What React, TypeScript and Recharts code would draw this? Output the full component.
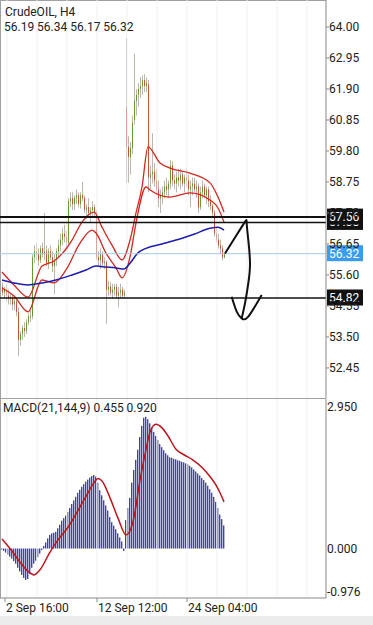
import React from 'react';
import { ComposedChart, Bar, Line, Scatter, XAxis, YAxis, ReferenceLine } from 'recharts';

// H4 candles, one entry per bar
const OPEN = [
  55.2, 55.0, 55.1, 54.9, 54.8, 54.85, 54.6, 54.7, 54.35, 53.4,
  53.6, 53.8, 53.7, 54.0, 54.2, 54.2, 56.2, 56.4, 56.3, 56.1,
  56.5, 56.3, 56.4, 56.0, 56.4, 56.2, 55.9, 56.1, 56.4, 56.6,
  56.8, 57.0, 56.9, 56.7, 58.1, 58.2, 58.0, 58.2, 58.3, 58.0,
  58.3, 58.2, 57.8, 57.9, 57.7, 57.8, 57.9, 57.7, 56.2, 56.1,
  56.3, 56.0, 56.05, 55.1, 55.2, 55.0, 55.1, 55.2, 54.9, 55.0,
  55.1, 54.9, 61.29, 59.94, 59.6, 59.9, 60.85, 61.5, 61.7, 61.9,
  62.0, 62.2, 62.0, 62.05, 58.9, 59.0, 59.1, 58.8, 58.5, 58.2,
  58.3, 58.4, 58.6, 58.5, 58.7, 59.3, 58.8, 58.7, 58.9, 58.8,
  59.0, 58.7, 58.9, 58.8, 58.5, 58.6, 58.7, 58.5, 58.6, 57.9,
  58.4, 58.6, 58.3, 58.5, 58.1, 57.95, 57.7, 57.0, 56.8, 56.6,
  56.5, 56.19,
];
const HIGH = [
  55.35, 55.2, 55.3, 55.1, 55.0, 54.95, 54.9, 54.8, 54.5, 53.7,
  53.9, 54.0, 54.1, 54.3, 54.5, 56.3, 56.6, 56.7, 56.5, 56.6,
  56.7, 57.7, 56.6, 56.5, 56.6, 56.4, 56.3, 56.5, 56.8, 57.0,
  57.2, 57.3, 57.1, 58.2, 58.4, 58.4, 58.3, 58.5, 58.4, 58.4,
  58.75, 58.3, 58.0, 58.2, 57.9, 58.1, 58.0, 57.8, 56.4, 56.5,
  56.4, 56.2, 56.1, 55.4, 55.35, 55.3, 55.3, 55.3, 55.2, 55.3,
  55.2, 55.1, 63.62, 60.3, 60.1, 61.0, 63.1, 61.9, 62.1, 62.3,
  62.35, 62.4, 62.3, 62.2, 59.3, 60.4, 59.4, 59.2, 58.8, 58.5,
  58.6, 58.8, 58.9, 58.8, 59.5, 59.45, 59.0, 59.1, 59.2, 59.2,
  59.1, 59.0, 59.2, 59.0, 58.8, 58.9, 58.9, 58.8, 58.7, 58.6,
  58.8, 58.7, 58.6, 58.6, 58.3, 58.0, 57.8, 57.2, 57.0, 56.8,
  56.6, 56.34,
];
const LOW = [
  54.9, 54.8, 54.7, 54.6, 54.6, 54.4, 54.4, 54.2, 52.85, 53.2,
  53.4, 53.5, 53.6, 53.9, 54.0, 54.1, 56.0, 56.1, 55.9, 56.0,
  56.2, 56.1, 55.9, 55.8, 56.1, 55.7, 54.95, 55.9, 56.2, 56.4,
  56.6, 56.7, 56.5, 56.6, 57.9, 57.8, 57.8, 58.0, 57.9, 57.85,
  58.1, 57.7, 57.5, 57.6, 57.4, 57.6, 57.6, 56.1, 55.9, 55.8,
  55.9, 55.8, 53.95, 54.9, 54.9, 54.8, 54.9, 54.8, 54.5, 54.8,
  54.8, 54.8, 58.72, 58.72, 59.0, 59.7, 60.7, 61.0, 61.3, 61.6,
  61.7, 61.8, 61.8, 58.4, 58.5, 58.7, 58.6, 58.3, 57.9, 57.7,
  58.0, 58.2, 58.3, 58.2, 58.5, 58.6, 58.5, 58.4, 58.6, 58.5,
  58.6, 58.4, 58.6, 58.3, 57.9, 58.3, 58.4, 58.2, 57.7, 57.8,
  58.2, 58.2, 58.0, 57.9, 57.8, 57.6, 56.9, 56.7, 56.5, 56.3,
  56.1, 56.17,
];
const CLOSE = [
  55.0, 55.1, 54.9, 54.8, 54.85, 54.6, 54.7, 54.35, 53.4, 53.6,
  53.8, 53.7, 54.0, 54.2, 54.2, 56.2, 56.4, 56.3, 56.1, 56.5,
  56.3, 56.4, 56.0, 56.4, 56.2, 55.9, 56.1, 56.4, 56.6, 56.8,
  57.0, 56.9, 56.7, 58.1, 58.2, 58.0, 58.2, 58.3, 58.0, 58.3,
  58.2, 57.8, 57.9, 57.7, 57.8, 57.9, 57.7, 56.2, 56.1, 56.3,
  56.0, 56.05, 55.1, 55.2, 55.0, 55.1, 55.2, 54.9, 55.0, 55.1,
  54.9, 55.0, 59.94, 59.6, 59.9, 60.75, 61.5, 61.7, 61.9, 62.0,
  62.2, 62.0, 62.1, 58.9, 59.0, 59.1, 58.8, 58.5, 58.2, 58.3,
  58.4, 58.6, 58.5, 58.7, 59.3, 58.8, 58.7, 58.9, 58.8, 59.0,
  58.7, 58.9, 58.8, 58.5, 58.6, 58.7, 58.5, 58.6, 57.9, 58.4,
  58.6, 58.3, 58.5, 58.1, 57.95, 57.7, 57.0, 56.8, 56.6, 56.5,
  56.19, 56.32,
];

// indicator lines, read at the bars listed in *_AT
const BAND_UP_AT = [0, 6, 13, 20, 26, 32, 35, 40, 46, 50, 55, 60, 64, 67, 70, 73, 79, 84, 94, 104, 108, 111];
const BAND_UP = [55.7, 55.26, 54.85, 55.9, 56.07, 56.48, 56.78, 57.39, 57.73, 57.22, 56.61, 56.11, 56.78, 57.7, 58.58, 59.94, 59.39, 59.22, 59.05, 58.72, 58.24, 57.73];
const BAND_LO_AT = [0, 6, 13, 20, 26, 32, 39, 45, 47, 52, 57, 60, 64, 67, 72, 74, 84, 94, 104, 108, 111];
const BAND_LO = [55.16, 54.89, 54.35, 55.43, 55.33, 55.77, 56.68, 57.12, 57.02, 56.34, 55.84, 55.5, 56.21, 57.36, 58.58, 58.48, 58.24, 58.38, 58.14, 57.87, 57.39];
const MA_AT = [0, 6, 13, 20, 27, 35, 42, 47, 52, 57, 61, 64, 68, 72, 80, 88, 96, 104, 108, 111];
const MA = [55.43, 55.33, 55.26, 55.33, 55.43, 55.6, 55.77, 55.9, 55.87, 55.84, 55.8, 56.0, 56.35, 56.5, 56.65, 56.8, 56.98, 57.18, 57.22, 57.12];

const MACD_HIST = [
  -0.02, -0.05, -0.08, -0.12, -0.16, -0.2, -0.25, -0.3, -0.38, -0.45,
  -0.52, -0.58, -0.62, -0.6, -0.5, -0.38, -0.3, -0.24, -0.17, -0.1,
  -0.03, 0.05, 0.12, 0.2, 0.27, 0.3, 0.31, 0.33, 0.4, 0.47,
  0.55, 0.6, 0.65, 0.72, 0.8, 0.88, 0.95, 1.02, 1.1, 1.16,
  1.22, 1.27, 1.32, 1.36, 1.4, 1.43, 1.45, 1.42, 1.3, 1.15,
  1.05, 0.95, 0.85, 0.75, 0.62, 0.52, 0.45, 0.38, 0.3, 0.22,
  0.14, -0.05, 0.56, 0.8, 1.0, 1.3, 1.55, 1.75, 1.95, 2.2,
  2.42, 2.58, 2.6, 2.55, 2.47, 2.38, 2.3, 2.22, 2.14, 2.06,
  2.0, 1.94, 1.88, 1.84, 1.8, 1.79, 1.77, 1.76, 1.74, 1.73,
  1.71, 1.7, 1.68, 1.66, 1.63, 1.6, 1.56, 1.52, 1.48, 1.44,
  1.39, 1.35, 1.3, 1.24, 1.17, 1.1, 1.02, 0.92, 0.8, 0.67,
  0.58, 0.455,
];
const SIGNAL_AT = [0, 5, 9, 13, 16, 19, 24, 28, 33, 38, 43, 46, 48, 50, 54, 58, 62, 64, 66, 69, 72, 74, 77, 80, 83, 87, 91, 95, 100, 104, 107, 109, 111];
const SIGNAL = [0.19, -0.05, -0.27, -0.45, -0.52, -0.42, -0.07, 0.17, 0.42, 0.75, 1.1, 1.3, 1.38, 1.33, 1.0, 0.6, 0.27, 0.35, 0.62, 1.35, 1.95, 2.3, 2.45, 2.38, 2.22, 1.96, 1.85, 1.76, 1.6, 1.42, 1.25, 1.1, 0.92];

const PRICE_TICKS = [64.0, 62.95, 61.9, 60.85, 59.8, 58.75, 57.7, 56.65, 55.6, 54.55, 53.5, 52.45];
const MACD_TICKS = [2.95, 0, -0.976];
const TIME_TICKS = [1.5, 47.5, 92.5];
const TIME_LABELS = ['2 Sep 16:00', '12 Sep 12:00', '24 Sep 04:00'];
const GRID_X = [2.5, 17.5, 32.5, 47.5, 62.5, 77.5, 92.5, 107.5, 122.5, 137.5, 152.5];

// horizontal levels drawn on the chart
const LEVEL_HI = 57.56;
const LEVEL_HI2 = 57.38;
const LEVEL_LO = 54.82;

// hand drawn arrow (bar index, price)
const ARROW_I = [111.5, 116.5, 121.5, 122.35, 123.15, 124, 123.15, 121.5, 119.85];
const ARROW_P = [56.33, 56.87, 57.4, 57.35, 56.78, 56.0, 55.32, 54.64, 54.13];
const HEAD_I = [114.85, 117.35, 119.85, 123.15, 129.85];
const HEAD_P = [54.86, 54.36, 54.13, 54.19, 54.92];

const AXIS_X = 326;
const FONT = 'Roboto, sans-serif';
const GREEN = '#5e9d2e';
const RED = '#c9503a';

const series = (at: number[], vals: number[]) => at.map((i, k) => ({ i, v: vals[k] }));
const upRows = series(BAND_UP_AT, BAND_UP);
const loRows = series(BAND_LO_AT, BAND_LO);
const maRows = series(MA_AT, MA);
const sigRows = series(SIGNAL_AT, SIGNAL);

const rows = CLOSE.map((c, i) => ({
  i,
  o: OPEN[i],
  h: HIGH[i],
  l: LOW[i],
  c,
  hist: MACD_HIST[i],
}));

const arrow = ARROW_I.map((i, k) => ({ i, p: ARROW_P[k] }));
const head = HEAD_I.map((i, k) => ({ i, p: HEAD_P[k] }));

const last = CLOSE.length - 1;

function Candle(props: any) {
  const { x, y, width, height, payload } = props;
  const { o, h, l, c } = payload;
  const top = Math.min(y, y + height);
  const hh = Math.abs(height);
  const ppu = hh / (h - l || 1);
  const bodyTop = top + (h - Math.max(o, c)) * ppu;
  const bodyH = Math.max(1, Math.abs(o - c) * ppu);
  const cx = Math.round(x + width / 2);
  return (
    <g>
      <rect x={cx} y={top} width={1} height={hh} fill="#bdb6ac" />
      <rect x={cx} y={bodyTop} width={1} height={bodyH} fill={c >= o ? GREEN : RED} />
    </g>
  );
}

function HistBar(props: any) {
  const { x, y, height } = props;
  const top = Math.min(y, y + height);
  const hh = Math.max(0.5, Math.abs(height));
  const x0 = Math.round(x);
  return (
    <g>
      <rect x={x0} y={top} width={1} height={hh} fill="#45478a" />
      <rect x={x0 + 1} y={top} width={1} height={hh} fill="#b6b8de" />
    </g>
  );
}

function PriceTick(props: any) {
  const { y, payload } = props;
  return (
    <text x={AXIS_X + 3} y={y + 4} fontSize={12} fill="#222" fontFamily={FONT} textAnchor="start">
      {payload.value.toFixed(2)}
    </text>
  );
}

function MacdTick(props: any) {
  const { y, payload } = props;
  const v = payload.value;
  const shift = v === MACD_TICKS[0] ? 8 : v === MACD_TICKS[2] ? -6 : 0;
  return (
    <text x={AXIS_X + 1} y={y + 4 + shift} fontSize={12} fill="#222" fontFamily={FONT} textAnchor="start">
      {v.toFixed(3)}
    </text>
  );
}

function TimeTick(props: any) {
  const { x, payload } = props;
  const k = TIME_TICKS.indexOf(payload.value);
  return (
    <text x={x + 1} y={213} fontSize={12} fill="#222" fontFamily={FONT} textAnchor="start">
      {TIME_LABELS[k]}
    </text>
  );
}

function BoxLabel(props: any) {
  const { viewBox, text, fill } = props;
  const cy = viewBox.y;
  return (
    <g>
      <rect x={AXIS_X + 1} y={cy - 8.5} width={36} height={16} fill={fill} />
      <text x={AXIS_X + 3} y={cy + 4} fontSize={12} fill="#fff" fontFamily={FONT}>
        {text}
      </text>
    </g>
  );
}

export default function App() {
  return (
    <div
      style={{
        position: 'absolute',
        left: 0,
        top: 0,
        width: 373,
        height: 625,
        background: '#fff',
        overflow: 'hidden',
        fontFamily: FONT,
      }}
    >
      <div style={{ position: 'absolute', left: 0, top: 616, width: 373, height: 9, background: '#ececec' }} />
      <div style={{ position: 'absolute', left: 0, top: 0, width: AXIS_X, height: 1, background: '#a0a0a0' }} />
      <div style={{ position: 'absolute', left: 0, top: 0, width: 1, height: 598, background: '#a0a0a0' }} />
      <div style={{ position: 'absolute', left: 0, top: 398, width: AXIS_X, height: 1, background: '#a0a0a0' }} />

      <div style={{ position: 'absolute', left: 0, top: 0 }}>
        <ComposedChart width={373} height={398} data={rows} margin={{ top: 0, right: 0, bottom: 0, left: 0 }}>
          <XAxis type="number" dataKey="i" domain={[-1, 162]} hide allowDataOverflow />
          <YAxis
            orientation="right"
            width={47}
            domain={[51.432, 64.915]}
            ticks={PRICE_TICKS}
            interval={0}
            tick={<PriceTick />}
            tickLine={{ stroke: '#888' }}
            tickSize={3}
            axisLine={{ stroke: '#888' }}
            allowDataOverflow
          />
          {GRID_X.map((g) => (
            <ReferenceLine key={g} x={g} stroke="#f1f1f1" />
          ))}
          <Bar dataKey={(d: any) => [d.l, d.h]} barSize={1} shape={<Candle />} isAnimationActive={false} />
          <Line data={upRows} dataKey="v" type="monotone" stroke="#d3261e" strokeWidth={1.3} dot={false} activeDot={false} isAnimationActive={false} />
          <Line data={loRows} dataKey="v" type="monotone" stroke="#d3261e" strokeWidth={1.3} dot={false} activeDot={false} isAnimationActive={false} />
          <Line data={maRows} dataKey="v" type="monotone" stroke="#1c1cb0" strokeWidth={1.5} dot={false} activeDot={false} isAnimationActive={false} />
          <ReferenceLine y={CLOSE[last]} stroke="#a6c9e6" strokeWidth={1} label={<BoxLabel text={CLOSE[last].toFixed(2)} fill="#3b9cec" />} />
          <ReferenceLine y={LEVEL_HI2} stroke="#111" strokeWidth={1.5} label={<BoxLabel text={LEVEL_HI2.toFixed(2)} fill="#111" />} />
          <ReferenceLine y={LEVEL_HI} stroke="#111" strokeWidth={2} label={<BoxLabel text={LEVEL_HI.toFixed(2)} fill="#111" />} />
          <ReferenceLine y={LEVEL_LO} stroke="#111" strokeWidth={1.5} label={<BoxLabel text={LEVEL_LO.toFixed(2)} fill="#111" />} />
          <Scatter
            data={arrow}
            dataKey="p"
            line={{ stroke: '#111', strokeWidth: 2 }}
            lineJointType="natural"
            shape={() => <g />}
            isAnimationActive={false}
          />
          <Scatter
            data={head}
            dataKey="p"
            line={{ stroke: '#111', strokeWidth: 2 }}
            lineJointType="natural"
            shape={() => <g />}
            isAnimationActive={false}
          />
        </ComposedChart>
      </div>

      <div style={{ position: 'absolute', left: 0, top: 399 }}>
        <ComposedChart width={373} height={226} data={rows} margin={{ top: 0, right: 0, bottom: 0, left: 0 }}>
          <XAxis
            type="number"
            dataKey="i"
            domain={[-1, 162]}
            ticks={TIME_TICKS}
            interval={0}
            height={27}
            tick={<TimeTick />}
            tickSize={4}
            tickLine={{ stroke: '#888' }}
            axisLine={{ stroke: '#888' }}
            allowDataOverflow
          />
          <YAxis
            orientation="right"
            width={47}
            domain={[-0.976, 2.95]}
            ticks={MACD_TICKS}
            interval={0}
            tick={<MacdTick />}
            tickLine={false}
            axisLine={{ stroke: '#888' }}
            allowDataOverflow
          />
          {GRID_X.map((g) => (
            <ReferenceLine key={g} x={g} stroke="#f1f1f1" />
          ))}
          <Bar dataKey="hist" barSize={2} shape={<HistBar />} isAnimationActive={false} />
          <Line data={sigRows} dataKey="v" type="monotone" stroke="#c0141c" strokeWidth={1.5} dot={false} activeDot={false} isAnimationActive={false} />
        </ComposedChart>
      </div>

      <div style={{ position: 'absolute', left: 5, top: 5, fontSize: 12, lineHeight: '15px', color: '#222' }}>
        <div>CrudeOIL, H4</div>
        <div style={{ marginLeft: -1 }}>
          {[OPEN[last], HIGH[last], LOW[last], CLOSE[last]].map((v) => v.toFixed(2)).join(' ')}
        </div>
      </div>
      <div style={{ position: 'absolute', left: 3, top: 401, fontSize: 12, lineHeight: '15px', color: '#222' }}>
        {`MACD(21,144,9) ${MACD_HIST[last].toFixed(3)} ${SIGNAL[SIGNAL.length - 1].toFixed(3)}`}
      </div>
    </div>
  );
}
